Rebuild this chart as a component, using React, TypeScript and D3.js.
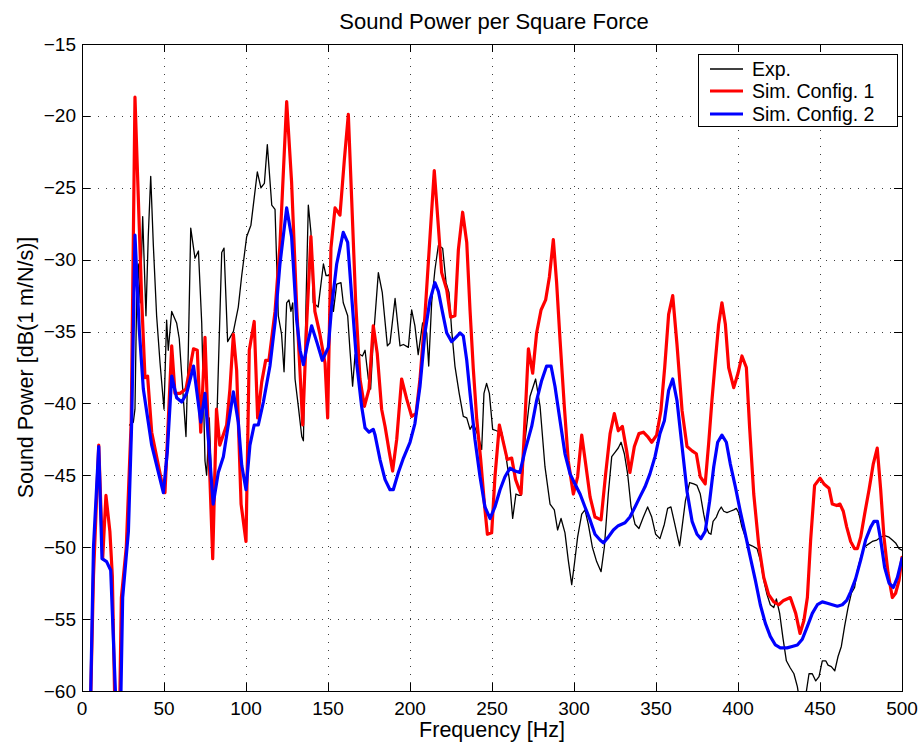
import React from "react";
import * as d3 from "d3";

const W = 923;
const H = 747;
const M = { left: 82, right: 902, top: 44, bottom: 691 };

const xTicks = [0, 50, 100, 150, 200, 250, 300, 350, 400, 450, 500];
const yTicks = [-15, -20, -25, -30, -35, -40, -45, -50, -55, -60];

const title = "Sound Power per Square Force";
const xLabel = "Frequency [Hz]";
const yLabel = "Sound Power [dB(1 m/N/s)]";
const seriesNames = ["Exp.", "Sim. Config. 1", "Sim. Config. 2"];

const expData: [number, number][] = [
  [29,-41.5],[31.3,-41.3],[32.3,-40.4],[33.3,-32.8],[34.3,-30.3],[35.5,-33],[37,-27],[39,-33.9],[40.4,-28.4],[41.9,-24.2],[43.5,-29],[45.5,-33.9],[47.6,-37.2],[50,-40.4],[51.6,-34.2],[52.6,-36.3],[54.7,-33.6],[57.7,-34.4],[59.3,-35.5],[60.8,-38],[63.4,-42.3],[64.8,-36.5],[66.3,-27.8],[68.9,-29.9],[71,-29.4],[73,-34.4],[75,-44],[76,-45],[77.6,-41],[79.7,-47.5],[82,-42],[85.2,-29.5],[86.6,-29.2],[88.8,-35.7],[92.3,-35],[95.3,-33.3],[97.4,-31.1],[100.4,-28.4],[103,-27.6],[105,-25.7],[106.9,-23.9],[109.1,-25],[111.2,-24.7],[113,-22],[115.7,-26.2],[117.7,-26.5],[119.7,-33.9],[121.7,-35.2],[123.2,-37.8],[124.8,-33],[126.2,-32.8],[127.4,-33.6],[128.5,-33],[129.9,-38.3],[131.9,-40.2],[134,-42.3],[135,-42.6],[136.6,-33],[138,-26.2],[139.6,-28.1],[141,-33],[144,-33.3],[147.2,-30.3],[148.8,-31.1],[151.2,-31.1],[153.3,-33.6],[155.3,-31.7],[157.9,-31.6],[159.3,-33],[162,-33.9],[163.4,-36.3],[165,-38.8],[166.5,-36.6],[169.5,-36.6],[171,-36.7],[172.6,-36.3],[174.6,-38.3],[176,-39],[177.6,-35.6],[180.7,-30.9],[183.1,-32.3],[186.2,-36],[187.8,-35.8],[190.9,-32.7],[193.9,-36],[196,-35.9],[199,-36.1],[201,-33.5],[203,-34.6],[205,-36.6],[207.7,-34.4],[210.2,-35.1],[211.4,-37.4],[213.2,-33],[215.2,-30.7],[217.3,-29],[219.9,-29.2],[222,-31.6],[223.8,-32.3],[225.4,-34.9],[227.4,-37.4],[230,-39.3],[232.5,-40.9],[234.6,-41],[236.6,-41.8],[238.6,-41.4],[241.7,-42.3],[243.7,-43.2],[245.1,-39.3],[246.7,-38.6],[248.4,-39.3],[250.4,-41.8],[252.8,-41.9],[255.9,-42],[257.9,-43.2],[260.6,-45.3],[262.6,-48],[264.6,-46.3],[266.5,-46.4],[267.7,-46.4],[270.1,-42.6],[273.2,-39.5],[276.6,-38.3],[279.3,-40.2],[282.3,-44.4],[285.4,-47],[288,-47.4],[290,-48.8],[292.1,-48],[294.5,-49],[296.5,-50.9],[298.6,-52.6],[300.2,-51.2],[302.2,-49.3],[304.7,-47.7],[306.7,-47.4],[308.7,-48.4],[311.2,-50],[313.8,-51],[316.5,-51.7],[318.5,-50],[320.9,-46.3],[323,-43.7],[325,-43.4],[327,-43.1],[328.7,-42.7],[330.7,-43.5],[332.7,-44.9],[334.8,-47.2],[337.2,-48.4],[339.6,-48.7],[342.3,-47.9],[344.9,-47.2],[347.4,-47.9],[349.8,-49.1],[352.4,-49.4],[355.1,-48.4],[357.1,-47.3],[359.1,-47.2],[361.1,-48.2],[363.2,-49.3],[364.4,-49.9],[365.9,-48.6],[367.9,-46.8],[370.5,-45.5],[373,-45.6],[375,-45.7],[377,-46.3],[379.1,-47.7],[380.7,-48.6],[382.1,-49],[383.5,-49.1],[384.8,-48.2],[386.8,-47.9],[388.2,-47.5],[389.8,-47.2],[391.3,-47.5],[393.3,-47.6],[395.3,-47.5],[397.4,-47.4],[399,-47.3],[400.4,-47.6],[402.4,-48.6],[404.5,-49.3],[406.5,-49.8],[408.5,-49.9],[411.6,-50.1],[413.6,-50.9],[415.7,-52.3],[417.7,-53.3],[419.7,-54],[421.8,-54.2],[423.4,-53.6],[425.4,-54.6],[427.4,-56.3],[429.5,-57.9],[431.9,-58.4],[434.1,-58.8],[436.2,-59.7],[438,-61],[440.4,-61],[443.3,-58.8],[445.3,-58.8],[447.4,-59.3],[449.4,-59],[451.4,-57.9],[453.5,-57.9],[454.9,-58.2],[456.9,-58.3],[459,-58.6],[461,-57.6],[463,-56.9],[465,-55.5],[467.1,-54.2],[469.1,-53.2],[471.1,-52.8],[472.8,-51.6],[474.8,-50.7],[476.8,-50],[479.3,-49.8],[481.9,-49.6],[484.6,-49.5],[487,-49.3],[489.4,-49.2],[492.1,-49.3],[494.1,-49.5],[496.1,-49.7],[498.2,-50.1],[500,-50.2]
];

const sim1Data: [number, number][] = [
  [5,-62],[7,-52],[10.2,-42.9],[12.6,-50.8],[14.6,-46.4],[17,-48.9],[18.5,-52],[20,-61],[23,-61],[24,-53.5],[27,-50],[30,-41.3],[32.3,-18.7],[36.4,-32.8],[38.4,-38.2],[40,-38.1],[42.5,-42],[49.6,-46],[50.6,-46.2],[54.7,-36],[56.7,-39.3],[59.8,-39.3],[63.4,-39],[68,-36.2],[70.3,-36.3],[72.4,-42],[75,-35.4],[79.7,-50.8],[82,-40.4],[84,-42.9],[88.2,-41.5],[90.2,-39],[92.3,-35.2],[94.3,-37.7],[97,-47],[100,-49.6],[102,-36.3],[105,-34.3],[107.1,-41],[109.6,-38.5],[112,-37],[114,-37],[117.7,-33.6],[120.7,-29],[124.8,-19],[127.8,-24.6],[130.9,-33.3],[134.6,-41.5],[137,-34.4],[139.6,-28.4],[142,-33.6],[145.1,-35.2],[148.2,-37.2],[149.8,-41],[151.8,-29.2],[154.3,-26.4],[157.3,-26.9],[160,-23],[162.4,-19.9],[164.4,-25.7],[166.9,-33],[169.5,-38.3],[172.2,-40.2],[175,-39],[177.6,-34.6],[180,-36.5],[182.7,-40.4],[184.8,-41.6],[187.4,-43.4],[189.4,-44.7],[191.9,-42.5],[194.9,-38.3],[198,-39.7],[201,-40.9],[203.7,-40.7],[206.1,-38.3],[209.1,-33.9],[212.2,-28.4],[214.8,-23.8],[217.3,-27.7],[219.3,-30.9],[222.4,-32.1],[224.8,-34],[227.4,-33.9],[229.5,-29.3],[232.1,-26.7],[234.6,-28.8],[236.6,-33.5],[238.6,-37.6],[240.7,-41.1],[243.1,-43.9],[245.3,-46.9],[247.2,-49.1],[249.8,-49],[251.8,-45.1],[254.5,-41.5],[256.9,-42.7],[259.3,-43.9],[262,-43.8],[264.4,-45.3],[266,-45.8],[267.7,-46.3],[269.7,-42.1],[272.2,-36.2],[274.8,-37.9],[277.2,-35.1],[279.9,-33.5],[282.7,-32.8],[285,-31.2],[287.4,-28.6],[289.4,-31.6],[291.5,-35.6],[294.1,-40.2],[296.5,-44],[299.6,-46.3],[302.2,-45.1],[304.7,-42.2],[307.1,-44.2],[309.8,-46.5],[312.8,-47.9],[316.5,-48.1],[319.3,-44.9],[322,-42.1],[324.6,-40.7],[327,-41.9],[329.5,-41.6],[332.1,-43.3],[334.1,-44.8],[336.8,-43],[339.6,-42.1],[342.3,-42],[344.9,-42.3],[347.4,-42.7],[350.4,-42.2],[353,-40.5],[355.3,-37.5],[357.7,-33.8],[360.2,-32.5],[362.8,-35.9],[365.9,-40.5],[368.9,-43],[372,-43.3],[374.6,-43.5],[377,-45.1],[380,-45.6],[382.1,-42.8],[384.1,-39.8],[386.2,-37],[388.2,-34.5],[390.2,-33],[392.3,-34.5],[394.3,-37.5],[397.4,-38.9],[400,-37.9],[402.4,-36.7],[405.1,-37.5],[407.1,-41.7],[409.6,-46.3],[412.6,-49.8],[415.7,-52.1],[418.7,-53.3],[421.8,-53.8],[424.8,-54],[427.8,-53.7],[431.9,-53.5],[435.2,-54.6],[437.8,-56],[440.2,-55.1],[442.3,-53.5],[444.3,-49.5],[446.7,-45.7],[450,-45.2],[452.4,-45.6],[455.5,-45.9],[457.5,-47],[460.2,-47.1],[462.2,-47],[464.2,-47.5],[466.3,-48.6],[468.7,-49.6],[471.1,-50.1],[472.8,-50.1],[474.8,-49.3],[477.2,-47.7],[479.9,-46],[482.5,-44.2],[484.9,-43.1],[487,-46],[489,-49.3],[491.5,-51.8],[494.1,-53.5],[496.1,-53.2],[498.2,-52.3],[500,-50.7]
];

const sim2Data: [number, number][] = [
  [5,-62],[7,-50],[10.2,-43],[12.2,-50.8],[15,-51],[17.5,-51.6],[20.7,-61],[23.6,-61],[24.8,-53.5],[28.3,-48.9],[30.3,-41.3],[32.3,-28.3],[35,-35],[37.4,-39],[42.5,-42.9],[49.6,-46.2],[52,-43.4],[54.7,-38.1],[57.7,-39.6],[60.8,-39.9],[63.8,-39.3],[68,-37.4],[72.4,-41.3],[75,-39.3],[80,-47],[83.1,-44.8],[86.2,-43.7],[88.5,-42],[92.3,-39.2],[95.3,-41.3],[97.4,-44.3],[100,-46],[102.4,-42.9],[105,-41.5],[107.5,-41.5],[110.6,-39.9],[114.6,-37.4],[117.7,-34.4],[120.7,-30.3],[124.8,-26.4],[127.8,-28.4],[130.9,-34.2],[133,-36.3],[135,-37.3],[137.6,-35.8],[140,-34.6],[143.1,-35.7],[146.5,-37],[150.2,-36.1],[152.2,-33.3],[155.3,-30.3],[159.3,-28.1],[162,-28.8],[164.4,-32.5],[167.5,-37.2],[170.5,-40.2],[172.6,-41.7],[175,-42],[177.6,-41.8],[178.7,-42.2],[181.7,-43.9],[184.8,-45.3],[187.8,-46],[189.8,-46],[192.9,-44.8],[196,-43.8],[200,-42.7],[203,-41.4],[206.1,-38.8],[209.1,-35.1],[212.2,-32.8],[215.2,-31.6],[217.3,-32.2],[219.9,-33.7],[222.4,-35.1],[225.4,-35.7],[228,-35.4],[230.5,-35.1],[232.5,-35.3],[234.6,-37],[236.6,-39.3],[239.6,-42.5],[242.7,-45.1],[245.7,-47.2],[248.8,-48],[251.8,-47.2],[254.9,-46],[257.9,-45.1],[261,-44.5],[264,-44.7],[267,-44.8],[270.1,-43.3],[274.2,-41.6],[277.2,-39.8],[280.3,-38.4],[283.3,-37.4],[286,-37.4],[288.4,-38.8],[291.5,-41.2],[294.5,-43.5],[297.6,-44.9],[300.6,-45.6],[303.7,-46.3],[306.7,-47.2],[309.8,-48.1],[312.8,-49.1],[315.9,-49.5],[317.9,-49.7],[320.9,-49.3],[324,-48.8],[327,-48.5],[331.1,-48.3],[334.1,-47.9],[337.2,-47.2],[340.2,-46.5],[343.3,-45.8],[346.3,-44.9],[349.4,-43.7],[352.4,-42.1],[355.1,-41.2],[357.7,-39.1],[360.2,-38.3],[362.8,-39.8],[365.9,-43],[368.9,-46.1],[372,-48.2],[375,-49.1],[377.4,-49.4],[380,-48.9],[382.7,-46.8],[385.2,-44.4],[387.6,-42.7],[390.2,-42.2],[392.9,-42.7],[395.3,-44.2],[398.4,-45.8],[401.4,-47.5],[404.5,-49.1],[407.5,-50.7],[410.6,-52.3],[413.6,-54],[416.7,-55.3],[419.7,-56.2],[422.8,-56.8],[425.8,-57],[429.9,-57],[433,-56.9],[436.2,-56.8],[439.2,-56.4],[442.3,-55.5],[445.3,-54.6],[448.4,-54],[451.4,-53.8],[454.5,-53.9],[457.5,-54],[460.6,-54.1],[463.6,-54],[466.3,-53.7],[468.7,-53.1],[471.7,-52.2],[474.8,-50.9],[477.8,-49.5],[480.9,-48.6],[482.9,-48.2],[485,-48.2],[487,-49.5],[489.4,-51.4],[492.1,-52.5],[494.7,-52.8],[497.2,-52.1],[500,-50.8]
];

const FONT = "'Liberation Sans', Arial, Helvetica, sans-serif";

export default function App() {
  const x = d3.scaleLinear().domain([0, 500]).range([M.left, M.right]);
  const y = d3.scaleLinear().domain([-60, -15]).range([M.bottom, M.top]);
  const line = d3
    .line<[number, number]>()
    .x((d) => x(d[0]))
    .y((d) => y(d[1]));
  const fmt = y.tickFormat(10, "d");
  const series = [
    { data: expData, color: "#000000", width: 1.3, name: seriesNames[0] },
    { data: sim1Data, color: "#ff0000", width: 3.2, name: seriesNames[1] },
    { data: sim2Data, color: "#0000ff", width: 3.2, name: seriesNames[2] },
  ];
  const tickLen = 8;
  const lg = { x0: 698, y0: 54, x1: 897, y1: 126 };
  const lgRows = [69, 91, 114];

  return (
    <svg
      width={W}
      height={H}
      style={{ position: "absolute", left: 0, top: 0, background: "#fff" }}
      fontFamily={FONT}
    >
      <rect x={0} y={0} width={W} height={H} fill="#fff" />
      <defs>
        <clipPath id="plotClip">
          <rect x={M.left} y={M.top} width={M.right - M.left} height={M.bottom - M.top} />
        </clipPath>
      </defs>
      {/* grid */}
      <g stroke="#000" strokeWidth={1} strokeDasharray="1 7" opacity={0.75}>
        {xTicks.slice(1, -1).map((t) => (
          <line key={"gx" + t} x1={x(t) + 0.5} x2={x(t) + 0.5} y1={M.bottom} y2={M.top} />
        ))}
        {yTicks.slice(1, -1).map((t) => (
          <line key={"gy" + t} x1={M.left} x2={M.right} y1={Math.round(y(t)) + 0.5} y2={Math.round(y(t)) + 0.5} />
        ))}
      </g>
      {/* data */}
      <g clipPath="url(#plotClip)" fill="none" strokeLinejoin="round" strokeLinecap="round">
        {series.map((s) => (
          <path key={s.name} d={line(s.data) || ""} stroke={s.color} strokeWidth={s.width} />
        ))}
      </g>
      {/* ticks */}
      <g stroke="#000" strokeWidth={1}>
        {xTicks.map((t) => (
          <g key={"tx" + t}>
            <line x1={x(t) + 0.5} x2={x(t) + 0.5} y1={M.bottom} y2={M.bottom - tickLen} />
            <line x1={x(t) + 0.5} x2={x(t) + 0.5} y1={M.top} y2={M.top + tickLen} />
          </g>
        ))}
        {yTicks.map((t) => (
          <g key={"ty" + t}>
            <line x1={M.left} x2={M.left + tickLen} y1={Math.round(y(t)) + 0.5} y2={Math.round(y(t)) + 0.5} />
            <line x1={M.right} x2={M.right - tickLen} y1={Math.round(y(t)) + 0.5} y2={Math.round(y(t)) + 0.5} />
          </g>
        ))}
      </g>
      {/* axis box */}
      <rect
        x={M.left + 0.5}
        y={M.top + 0.5}
        width={M.right - M.left}
        height={M.bottom - M.top}
        fill="none"
        stroke="#000"
        strokeWidth={1}
      />
      {/* tick labels */}
      <g fontSize={19} fill="#000">
        {xTicks.map((t) => (
          <text key={"lx" + t} x={x(t)} y={715} textAnchor="middle">
            {fmt(t)}
          </text>
        ))}
        {yTicks.map((t) => (
          <text key={"ly" + t} x={76} y={y(t)} textAnchor="end" dominantBaseline="central">
            {fmt(t)}
          </text>
        ))}
      </g>
      {/* labels */}
      <text x={(M.left + M.right) / 2 + 2} y={29} textAnchor="middle" fontSize={22} fill="#000">
        {title}
      </text>
      <text x={(M.left + M.right) / 2} y={737} textAnchor="middle" fontSize={21.5} fill="#000">
        {xLabel}
      </text>
      <text
        transform={`translate(33, ${(M.top + M.bottom) / 2}) rotate(-90)`}
        textAnchor="middle"
        fontSize={21.5}
        fill="#000"
      >
        {yLabel}
      </text>
      {/* legend */}
      <rect
        x={lg.x0 + 0.5}
        y={lg.y0 + 0.5}
        width={lg.x1 - lg.x0}
        height={lg.y1 - lg.y0}
        fill="#fff"
        stroke="#000"
        strokeWidth={1}
      />
      {series.map((s, i) => (
        <g key={"lg" + i}>
          <line x1={710} x2={743} y1={lgRows[i]} y2={lgRows[i]} stroke={s.color} strokeWidth={s.width} />
          <text x={752} y={lgRows[i]} dominantBaseline="central" fontSize={19.5} fill="#000">
            {s.name}
          </text>
        </g>
      ))}
    </svg>
  );
}
